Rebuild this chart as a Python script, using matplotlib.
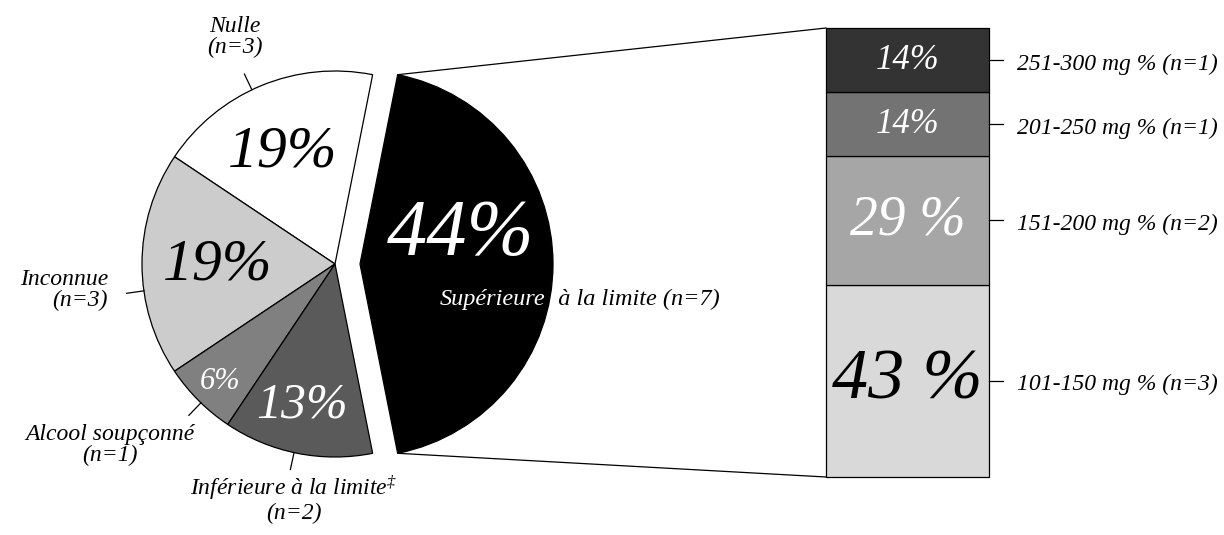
import numpy as np
import matplotlib
matplotlib.use("Agg")
import matplotlib.pyplot as plt

# ---------------- data ----------------
pie_labels = ["Supérieure", "  à la limite (n=7)", "Nulle\n(n=3)", "Inconnue\n(n=3)",
              "Alcool soupçonné\n(n=1)", "Inférieure à la limite$^{‡}$\n(n=2)"]
pie_counts = [7, 3, 3, 1, 2]
pie_pct = ["44%", "19%", "19%", "6%", "13%"]
pie_colors = ["#000000", "#ffffff", "#cccccc", "#808080", "#5a5a5a"]

bar_labels = ["101-150 mg % (n=3)", "151-200 mg % (n=2)", "201-250 mg % (n=1)", "251-300 mg % (n=1)"]
bar_counts = [3, 2, 1, 1]
bar_pct = ["43 %", "29 %", "14%", "14%"]
bar_colors = ["#d9d9d9", "#a6a6a6", "#737373", "#333333"]

# ---------------- layout ----------------
W, H = 1224, 535
fig = plt.figure(figsize=(W / 100, H / 100), dpi=100)
ax = fig.add_axes([0, 0, 1, 1])

FONT = "Liberation Serif"
plt.rcParams["mathtext.fontset"] = "custom"
plt.rcParams["mathtext.rm"] = "Liberation Serif:italic"
plt.rcParams["mathtext.it"] = "Liberation Serif:italic"

center = (335, H - 264)
radius = 193
explode_px = 25
start = -360 * pie_counts[0] / sum(pie_counts) / 2

wedges, _ = ax.pie(pie_counts, colors=pie_colors, startangle=start, counterclock=True,
                   center=center, radius=radius, explode=[explode_px, 0, 0, 0, 0],
                   wedgeprops=dict(edgecolor="black", linewidth=0.9), frame=True)
ax.set_xlim(0, W)
ax.set_ylim(0, H)
ax.set_aspect("equal")
ax.axis("off")

total = sum(pie_counts)
bounds = np.cumsum([0] + pie_counts) / total * 360 + start
mids = (bounds[:-1] + bounds[1:]) / 2
apex = (center[0] + explode_px, center[1])

# percentage labels inside slices: (radius fraction, angle offset, size, color)
pct_style = [(0.54, 16, 58, "white"), (0.64, 2.5, 43, "black"), (0.61, 0.5, 43, "black"),
             (0.85, 0.7, 22, "white"), (0.75, -1.75, 36, "white")]
for i, (rf, da, fs, col) in enumerate(pct_style):
    cx, cy = apex if i == 0 else center
    a = np.deg2rad(mids[i] + da)
    ax.text(cx + rf * radius * np.cos(a), cy + rf * radius * np.sin(a), pie_pct[i],
            ha="center", va="center", fontsize=fs, color=col, family=FONT, style="italic",
            zorder=5)

# label of the exploded slice: first word white (inside), rest black (outside)
fig.canvas.draw()
renderer = fig.canvas.get_renderer()
t1 = ax.text(440, H - 299, pie_labels[0], ha="left", va="center", fontsize=17.5,
             family=FONT, style="italic", color="white", zorder=5)
bb = t1.get_window_extent(renderer).transformed(ax.transData.inverted())
ax.text(bb.x1, H - 299, pie_labels[1], ha="left", va="center", fontsize=17.5,
        family=FONT, style="italic", color="black", zorder=5)

# outside labels with leader lines
leader_adj = [0, 3, 8, 1, -1]
label_pos = [None, (235, H - 37, "center"), (108, H - 290, "right"),
             (110, H - 445, "center"), (294, H - 499, "center")]
for i in range(1, 5):
    a = np.deg2rad(mids[i] + leader_adj[i])
    x0 = center[0] + radius * np.cos(a)
    y0 = center[1] + radius * np.sin(a)
    x1 = center[0] + radius * 1.09 * np.cos(a)
    y1 = center[1] + radius * 1.09 * np.sin(a)
    ax.plot([x0, x1], [y0, y1], color="black", lw=0.9)
    lx, ly, ha = label_pos[i]
    ax.text(lx, ly, pie_labels[i + 1], ha=ha, va="center", multialignment=ha,
            fontsize=17, family=FONT, style="italic", linespacing=1.0)

# ---------------- stacked bar ----------------
bar_left, bar_right = 826, 989
bar_bot, bar_top = H - 477, H - 28
bx = (bar_left + bar_right) / 2
bw = bar_right - bar_left
unit = (bar_top - bar_bot) / sum(bar_counts)
bottoms = bar_bot + np.concatenate([[0], np.cumsum(bar_counts)[:-1]]) * unit
heights = np.array(bar_counts) * unit
ax.bar([bx] * 4, heights, width=bw, bottom=bottoms, color=bar_colors,
       edgecolor="black", linewidth=0.9, zorder=2)

bar_text_style = [(52, "black"), (40, "white"), (25, "white"), (25, "white")]
for i in range(4):
    ym = bottoms[i] + heights[i] / 2
    fs, col = bar_text_style[i]
    ax.text(bx, ym, bar_pct[i], ha="center", va="center", fontsize=fs, color=col,
            family=FONT, style="italic", zorder=5)
    ax.plot([bar_right, bar_right + 14], [ym, ym], color="black", lw=0.9)
    ax.text(bar_right + 28, ym - 4, bar_labels[i], ha="left", va="center", fontsize=17,
            family=FONT, style="italic")

# connector lines from exploded slice to bar
for ang, yb in [(-start, bar_top), (start, bar_bot)]:
    a = np.deg2rad(ang)
    px = apex[0] + radius * np.cos(a)
    py = apex[1] + radius * np.sin(a)
    ax.plot([px, bar_left], [py, yb], color="black", lw=0.9)

fig.savefig("out.png", dpi=100)
